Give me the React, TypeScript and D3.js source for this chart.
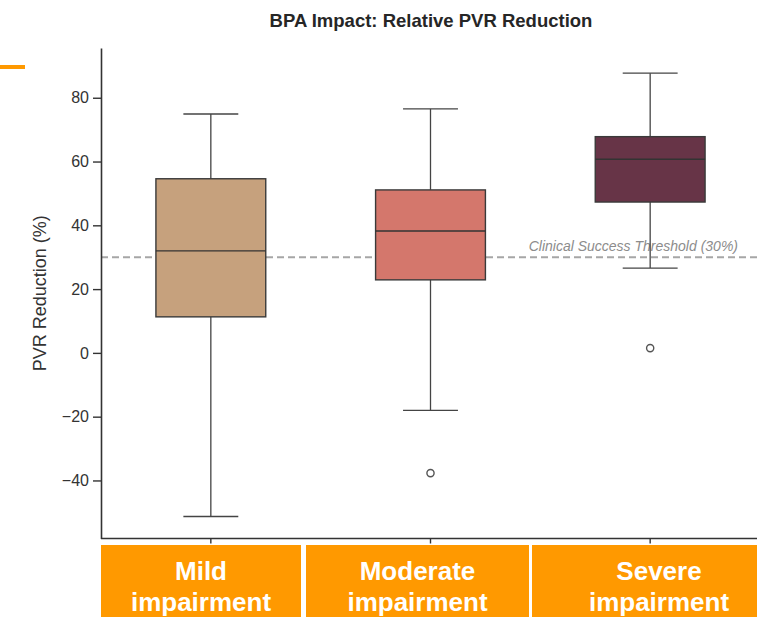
import React, { useRef, useEffect } from "react";
import * as d3 from "d3";

const categories = ["Mild impairment", "Moderate impairment", "Severe impairment"];
const whiskerLow = [-51.3, -18.0, 26.6];
const q1 = [11.3, 22.9, 47.3];
const medians = [32.0, 38.2, 60.7];
const q3 = [54.6, 51.1, 67.8];
const whiskerHigh = [74.9, 76.5, 87.7];
const outliers = [[], [-37.7], [1.5]];
const boxColors = ["#c6a17d", "#d4776c", "#673447"];
const yTicks = [-40, -20, 0, 20, 40, 60, 80];
const threshold = 30;
const thresholdLabel = "Clinical Success Threshold (30%)";

// orange label strips pasted over the x axis (slide overlay)
const strips = [
  { x0: 101, x1: 301, lines: ["Mild", "impairment"] },
  { x0: 306, x1: 529, lines: ["Moderate", "impairment"] },
  { x0: 532, x1: 786, lines: ["Severe", "impairment"] },
];

const W = 757;
const H = 617;
const left = 101;
const right = 760;
const top = 48;
const bottom = 538.5;

const App = () => {
  const yAxisRef = useRef<SVGGElement>(null);
  const xAxisRef = useRef<SVGGElement>(null);

  const x = d3.scaleBand().domain(categories).range([left, right]);
  const y = d3.scaleLinear().domain([-58.2, 95.6]).range([bottom, top]);
  const bw = x.bandwidth() * 0.5;

  useEffect(() => {
    const ya = d3.select(yAxisRef.current);
    ya.selectAll("*").remove();
    ya.call(
      d3
        .axisLeft(y)
        .tickValues(yTicks)
        .tickSize(8)
        .tickSizeOuter(0)
        .tickPadding(4)
        .tickFormat((d) => String(d).replace("-", "\u2212"))
    );
    ya.select(".domain").attr("stroke", "#333").attr("stroke-width", 1.6);
    ya.selectAll(".tick line").attr("stroke", "#333").attr("stroke-width", 1.4);
    ya.selectAll(".tick text")
      .attr("fill", "#333")
      .style("font-size", "16px")
      .style("font-family", "Liberation Sans, Arial, sans-serif");

    const xa = d3.select(xAxisRef.current);
    xa.selectAll("*").remove();
    xa.call(d3.axisBottom(x).tickSize(5).tickSizeOuter(0).tickFormat(() => ""));
    xa.select(".domain").attr("stroke", "#333").attr("stroke-width", 1.6).attr("d", `M${left},0H${W + 10}`);
    xa.selectAll(".tick line").attr("stroke", "#333").attr("stroke-width", 1.4);
  }, []);

  return (
    <div style={{ position: "absolute", left: 0, top: 0 }}>
      <svg width={W} height={H} style={{ display: "block", background: "#fff", fontFamily: "Liberation Sans, Arial, sans-serif" }}>
        <text x={431} y={27} textAnchor="middle" fontSize={18.5} fontWeight="bold" fill="#262626">
          BPA Impact: Relative PVR Reduction
        </text>
        <rect x={0} y={65} width={25} height={4} fill="#ff9900" />

        {/* threshold */}
        <line x1={left} x2={right} y1={y(threshold)} y2={y(threshold)} stroke="#a6a6a6" strokeWidth={2} strokeDasharray="7,4" />
        <text x={738} y={y(threshold) - 6} textAnchor="end" fontSize={14} fontStyle="italic" fill="#8c8c8c">
          {thresholdLabel}
        </text>

        {categories.map((c, i) => {
          const cx = (x(c) as number) + x.bandwidth() / 2;
          return (
            <g key={c}>
              <line x1={cx} x2={cx} y1={y(q3[i])} y2={y(whiskerHigh[i])} stroke="#444" strokeWidth={1.3} />
              <line x1={cx} x2={cx} y1={y(q1[i])} y2={y(whiskerLow[i])} stroke="#444" strokeWidth={1.3} />
              <line x1={cx - bw / 4} x2={cx + bw / 4} y1={y(whiskerHigh[i])} y2={y(whiskerHigh[i])} stroke="#444" strokeWidth={1.3} />
              <line x1={cx - bw / 4} x2={cx + bw / 4} y1={y(whiskerLow[i])} y2={y(whiskerLow[i])} stroke="#444" strokeWidth={1.3} />
              <rect
                x={cx - bw / 2}
                y={y(q3[i])}
                width={bw}
                height={y(q1[i]) - y(q3[i])}
                fill={boxColors[i]}
                stroke="#3a3a3a"
                strokeWidth={1.4}
              />
              <line x1={cx - bw / 2} x2={cx + bw / 2} y1={y(medians[i])} y2={y(medians[i])} stroke="#333" strokeWidth={1.4} />
              {outliers[i].map((v, j) => (
                <circle key={j} cx={cx} cy={y(v)} r={3.6} fill="none" stroke="#555" strokeWidth={1.4} />
              ))}
            </g>
          );
        })}

        <g ref={yAxisRef} transform={`translate(${left},0)`} />
        <g ref={xAxisRef} transform={`translate(0,${bottom})`} />

        {/* y label */}
        <text
          transform={`translate(46,${(top + bottom) / 2}) rotate(-90)`}
          textAnchor="middle"
          fontSize={18}
          fill="#333"
        >
          PVR Reduction (%)
        </text>

        {strips.map((s) => (
          <g key={s.lines[0]}>
            <rect x={s.x0} y={545} width={s.x1 - s.x0} height={H - 545 + 5} fill="#ff9900" />
            {s.lines.map((t, k) => (
              <text key={k} x={(s.x0 + s.x1) / 2} y={580 + k * 31} textAnchor="middle" fontSize={26} fontWeight="bold" fill="#fff">
                {t}
              </text>
            ))}
          </g>
        ))}
      </svg>
    </div>
  );
};

export default App;
